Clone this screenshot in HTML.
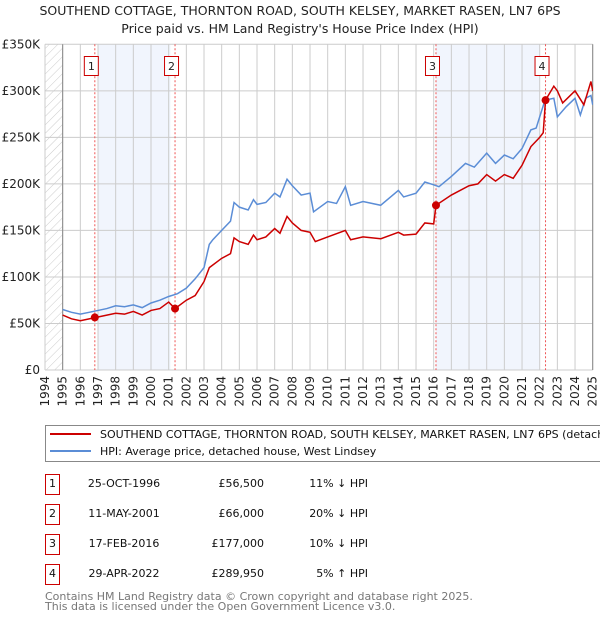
<!DOCTYPE html>
<html><head><meta charset="utf-8">
<style>
body{margin:0;background:#fff;font-family:"DejaVu Sans","Liberation Sans",sans-serif;}
svg text{font-family:"DejaVu Sans","Liberation Sans",sans-serif;}
</style></head>
<body>
<svg id="chart" width="600" height="620" viewBox="0 0 600 620">
<defs>
<pattern id="hatch" width="6" height="6" patternUnits="userSpaceOnUse" patternTransform="rotate(45)">
<line x1="0" y1="0" x2="0" y2="6" stroke="#ccc" stroke-width="1"/>
</pattern>
<clipPath id="clip"><rect x="45" y="44" width="548" height="326"/></clipPath>
</defs>
<text x="300" y="15" text-anchor="middle" font-size="12.5" fill="#222">SOUTHEND COTTAGE, THORNTON ROAD, SOUTH KELSEY, MARKET RASEN, LN7 6PS</text>
<text x="300" y="33" text-anchor="middle" font-size="12.5" fill="#222">Price paid vs. HM Land Registry's House Price Index (HPI)</text>
<g id="plot"></g>
<g id="legend">
<rect x="45.5" y="425.5" width="580" height="36" fill="#fff" stroke="#888"/>
<line x1="50" y1="434" x2="91" y2="434" stroke="#cc0000" stroke-width="2"/>
<text x="100" y="438" font-size="11" fill="#111">SOUTHEND COTTAGE, THORNTON ROAD, SOUTH KELSEY, MARKET RASEN, LN7 6PS (detached h</text>
<line x1="50" y1="451" x2="91" y2="451" stroke="#5b8dd6" stroke-width="2"/>
<text x="100" y="455" font-size="11" fill="#111">HPI: Average price, detached house, West Lindsey</text>
</g>
<g id="table"></g>
<text x="45" y="600" font-size="11" fill="#777">Contains HM Land Registry data © Crown copyright and database right 2025.</text>
<text x="45" y="610" font-size="11" fill="#777">This data is licensed under the Open Government Licence v3.0.</text>
</svg>
<script>
const hpiYears=[1995,1995.5,1996,1996.5,1997,1997.5,1998,1998.5,1999,1999.5,2000,2000.5,2001,2001.5,2002,2002.5,2003,2003.3,2003.5,2004,2004.5,2004.7,2005,2005.5,2005.8,2006,2006.5,2007,2007.3,2007.7,2008,2008.5,2009,2009.2,2010,2010.5,2011,2011.3,2012,2013,2014,2014.3,2015,2015.5,2016,2016.3,2017,2017.8,2018.3,2019,2019.5,2020,2020.5,2021,2021.5,2021.8,2022,2022.3,2022.8,2023,2023.5,2024,2024.3,2024.6,2024.9,2025];
const hpiValues=[65,62,60,62,64,66,69,68,70,67,72,75,79,82,88,98,110,135,140,150,160,180,175,172,183,178,180,190,186,205,198,188,190,170,181,179,197,177,181,177,193,186,190,202,199,197,208,222,218,233,222,231,227,238,258,260,272,290,292,272,283,292,274,292,295,285];
const priceYears=[1995,1995.5,1996,1997,1998,1998.5,1999,1999.5,2000,2000.5,2001,2001.36,2002,2002.5,2003,2003.3,2004,2004.5,2004.7,2005,2005.5,2005.8,2006,2006.5,2007,2007.3,2007.7,2008,2008.5,2009,2009.3,2010,2011,2011.3,2012,2013,2014,2014.3,2015,2015.5,2016,2016.13,2017,2018,2018.5,2019,2019.5,2020,2020.5,2021,2021.5,2022,2022.2,2022.33,2022.8,2023,2023.3,2024,2024.5,2024.9,2025];
const priceValues=[59,55,53,57,61,60,63,59,64,66,73,66,75,80,95,110,120,125,142,138,135,145,140,143,152,147,165,158,150,148,138,143,150,140,143,141,148,145,146,158,157,177,188,198,200,210,203,210,206,220,240,250,255,290,305,300,287,300,285,310,300];
const saleLabels=["1","2","3","4"];
const saleYears=[1996.82,2001.36,2016.13,2022.33];
const saleValues=[56.5,66,177,289.95];
const saleDates=["25-OCT-1996","11-MAY-2001","17-FEB-2016","29-APR-2022"];
const salePrices=["£56,500","£66,000","£177,000","£289,950"];
const saleHpi=["11% ↓ HPI","20% ↓ HPI","10% ↓ HPI","5% ↑ HPI"];
const yTicks=[0,50,100,150,200,250,300,350];
const yTickLabels=["£0","£50K","£100K","£150K","£200K","£250K","£300K","£350K"];
const xTicks=[1994,1995,1996,1997,1998,1999,2000,2001,2002,2003,2004,2005,2006,2007,2008,2009,2010,2011,2012,2013,2014,2015,2016,2017,2018,2019,2020,2021,2022,2023,2024,2025];
const shadeRanges=[[1997.0,2001.1],[2016.13,2022.0]];

const NS="http://www.w3.org/2000/svg";
const X0=45,X1=592.7,Y0=370,Y1=44.3;
const xs=y=>X0+(y-1994)*(X1-X0)/31;
const ys=v=>Y0-v*(Y0-Y1)/350;
function mk(tag,attrs,parent){const e=document.createElementNS(NS,tag);for(const k in attrs)e.setAttribute(k,attrs[k]);parent.appendChild(e);return e;}
const plot=document.getElementById('plot');
let e;
e=mk('rect',{x:X0,y:Y1,width:X1-X0,height:Y0-Y1,fill:'#fff'},plot);


shadeRanges.forEach(r=>{e=mk('rect',{x:xs(r[0]),y:Y1,width:xs(r[1])-xs(r[0]),height:Y0-Y1,fill:'#eef3fc',opacity:0.8},plot);

});
e=mk('rect',{x:X0,y:Y1,width:xs(1995)-X0,height:Y0-Y1,fill:'url(#hatch)'},plot);


xTicks.forEach(t=>{e=mk('line',{x1:xs(t),x2:xs(t),y1:Y1,y2:Y0,stroke:'#ccc','stroke-width':1},plot);


e=mk('text',{x:0,y:0,'font-size':12,fill:'#222','text-anchor':'end',transform:`translate(${xs(t)+4},${Y0+6}) rotate(-90)`},plot);
e.textContent=t;

});
yTicks.forEach((t,i)=>{e=mk('line',{x1:X0,x2:X1,y1:ys(t),y2:ys(t),stroke:'#ccc','stroke-width':1},plot);


e=mk('text',{x:X0-5,y:ys(t)+4,'font-size':12,fill:'#222','text-anchor':'end'},plot);
e.textContent=yTickLabels[i];

});
e=mk('line',{x1:xs(1995),x2:xs(1995),y1:Y1,y2:Y0,stroke:'#888'},plot);


e=mk('line',{x1:X1,x2:X1,y1:Y1,y2:Y0,stroke:'#888'},plot);


saleYears.forEach(s=>{e=mk('line',{x1:xs(s),x2:xs(s),y1:Y1,y2:Y0,stroke:'#ee5555','stroke-dasharray':'2,2','stroke-width':1},plot);

});
const g=mk('g',{'clip-path':'url(#clip)'},plot);
e=mk('polyline',{points:hpiYears.map((y,i)=>xs(y)+','+ys(hpiValues[i])).join(' '),fill:'none',stroke:'#5b8dd6','stroke-width':1.5},g);


e=mk('polyline',{points:priceYears.map((y,i)=>xs(y)+','+ys(priceValues[i])).join(' '),fill:'none',stroke:'#cc0000','stroke-width':1.5},g);


saleYears.forEach((s,i)=>{e=mk('circle',{cx:xs(s),cy:ys(saleValues[i]),r:4,fill:'#cc0000'},plot);


e=mk('rect',{x:xs(s)-10.5,y:56.5,width:14,height:19,fill:'#fff',stroke:'#cc0000'},plot);


e=mk('text',{x:xs(s)-3.5,y:70,'font-size':11,fill:'#222','text-anchor':'middle'},plot);
e.textContent=saleLabels[i];

});
const tb=document.getElementById('table');
saleLabels.forEach((l,i)=>{const cy=483+i*30;
e=mk('rect',{x:45.5,y:cy-8.5,width:14,height:20,fill:'#fff',stroke:'#cc0000'},tb);


e=mk('text',{x:52.5,y:cy+4,'font-size':11,fill:'#111','text-anchor':'middle'},tb);e.textContent=l;


e=mk('text',{x:124,y:cy+4,'font-size':11,fill:'#111','text-anchor':'middle'},tb);e.textContent=saleDates[i];


e=mk('text',{x:264,y:cy+4,'font-size':11,fill:'#111','text-anchor':'end'},tb);e.textContent=salePrices[i];


e=mk('text',{x:368,y:cy+4,'font-size':11,fill:'#111','text-anchor':'end'},tb);e.textContent=saleHpi[i];

});
</script>
</body></html>
